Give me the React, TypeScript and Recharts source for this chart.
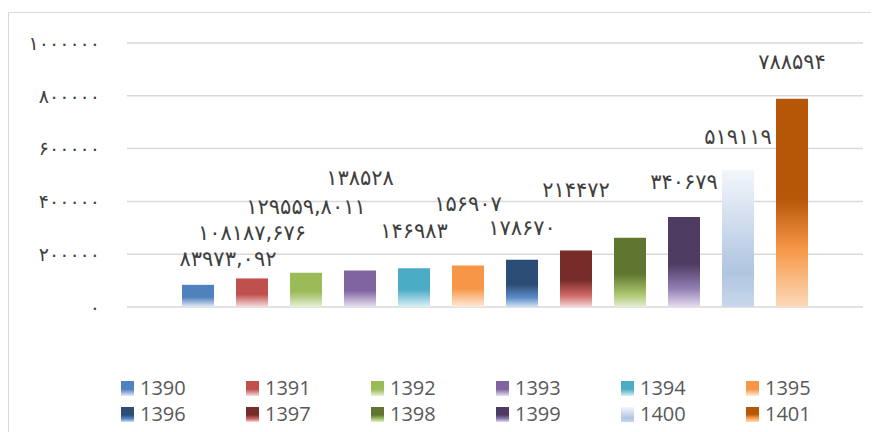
import { BarChart, Bar, XAxis, YAxis, CartesianGrid, Legend, LabelList } from 'recharts';

const years = ['1390', '1391', '1392', '1393', '1394', '1395', '1396', '1397', '1398', '1399', '1400', '1401'];
const values = [83973.092, 108187.676, 129559.8011, 138528, 146983, 156907, 178670, 214472, 262000, 340679, 519119, 788594];
// 1398 has no data label in the original
const showLabel = [true, true, true, true, true, true, true, true, false, true, true, true];
const yTicks = [0, 200000, 400000, 600000, 800000, 1000000];

// gradient stops per series: [offset, colour]
const gradients: [number, string][][] = [
  [[0, '#4f81bd'], [0.55, '#4f81bd'], [1, '#e3ebf6']],
  [[0, '#c0504d'], [0.55, '#c0504d'], [1, '#f5dedd']],
  [[0, '#9bbb59'], [0.55, '#9bbb59'], [1, '#e8f0d8']],
  [[0, '#8064a2'], [0.55, '#8064a2'], [1, '#e8e2ef']],
  [[0, '#4bacc6'], [0.55, '#4bacc6'], [1, '#ddf0f5']],
  [[0, '#f79646'], [0.55, '#f79646'], [1, '#fdebdc']],
  [[0, '#2c4d75'], [0.52, '#2c4d75'], [0.8, '#5b8cc8'], [1, '#d3e1f3']],
  [[0, '#772c2a'], [0.52, '#772c2a'], [0.8, '#d06a68'], [1, '#f3d9d8']],
  [[0, '#5f7530'], [0.52, '#5f7530'], [0.8, '#a6c26a'], [1, '#e6eed4']],
  [[0, '#4d3b62'], [0.52, '#4d3b62'], [0.8, '#9480b5'], [1, '#e4ddee']],
  [[0, '#f3f6fb'], [0.75, '#afc5e0'], [1, '#c9d8eb']],
  [[0, '#b65708'], [0.48, '#b65708'], [0.72, '#f79646'], [1, '#fcdabb']],
];

// hand-placed labels, as in the source sheet
const labelLift = [26, 45, 66, 92, 37, 62, 32, 60, 0, 35, 33, 37];
const labelShift = [30, 0, 0, 0, 0, 0, 0, 0, 0, 0, 0, 0];

const row: Record<string, number | string> = { name: '' };
years.forEach((y, i) => {
  row[y] = values[i];
});
const data = [row];

const faDigits = '۰۱۲۳۴۵۶۷۸۹';
const toFa = (v: number | string) =>
  String(v)
    .replace('.', ',')
    .replace(/[0-9]/g, (d) => faDigits[Number(d)]);

const cssGradient = (stops: [number, string][]) =>
  `linear-gradient(to bottom, ${stops.map(([o, c]) => `${c} ${o * 100}%`).join(', ')})`;

function LegendGrid() {
  return (
    <div style={{ paddingTop: 68, height: 52, paddingLeft: 112 }}>
      <div style={{ display: 'grid', gridTemplateColumns: 'repeat(6, 125px)', gridAutoRows: '26px' }}>
        {years.map((y, i) => (
          <div key={y} style={{ display: 'flex', alignItems: 'center' }}>
            <span style={{ width: 13, height: 15, background: cssGradient(gradients[i]), marginRight: 6 }} />
            <span style={{ fontFamily: '"Open Sans", sans-serif', fontSize: 20, color: '#595959', lineHeight: '26px' }}>{y}</span>
          </div>
        ))}
      </div>
    </div>
  );
}

export default function App() {
  return (
    <div style={{ marginTop: 4, borderTop: '1px solid #d9d9d9', borderLeft: '1px solid #d9d9d9', width: 870, height: 420 }}>
      <BarChart
        width={870}
        height={420}
        data={data}
        margin={{ top: 30, right: 16, left: 0, bottom: 6 }}
        barSize={32}
        barGap={22}
      >
        <defs>
          {gradients.map((stops, i) => (
            <linearGradient key={i} id={`g${i}`} x1="0" y1="0" x2="0" y2="1">
              {stops.map(([o, c], k) => (
                <stop key={k} offset={o} stopColor={c} />
              ))}
            </linearGradient>
          ))}
        </defs>
        <CartesianGrid vertical={false} stroke="#d9d9d9" strokeWidth={1.5} />
        <XAxis dataKey="name" hide />
        <YAxis
          width={118}
          domain={[0, 1000000]}
          ticks={yTicks}
          axisLine={false}
          tickLine={false}
          tickSize={0}
          tickMargin={27}
          tickFormatter={(v) => toFa(v)}
          tick={{ fill: '#404040', fontSize: 19, fontFamily: '"DejaVu Sans", sans-serif' }}
        />
        <Legend verticalAlign="bottom" content={() => <LegendGrid />} />
        {years.map((y, i) => (
          <Bar key={y} dataKey={y} fill={`url(#g${i})`} isAnimationActive={false}>
            {showLabel[i] && (
              <LabelList
                dataKey={y}
                content={(p: any) => (
                  <text
                    x={Number(p.x) + Number(p.width) / 2 + labelShift[i]}
                    y={Number(p.y) - labelLift[i]}
                    textAnchor="middle"
                    dominantBaseline="central"
                    fill="#404040"
                    fontSize={21}
                    fontFamily='"DejaVu Sans", sans-serif'
                  >
                    {toFa(p.value)}
                  </text>
                )}
              />
            )}
          </Bar>
        ))}
      </BarChart>
    </div>
  );
}
